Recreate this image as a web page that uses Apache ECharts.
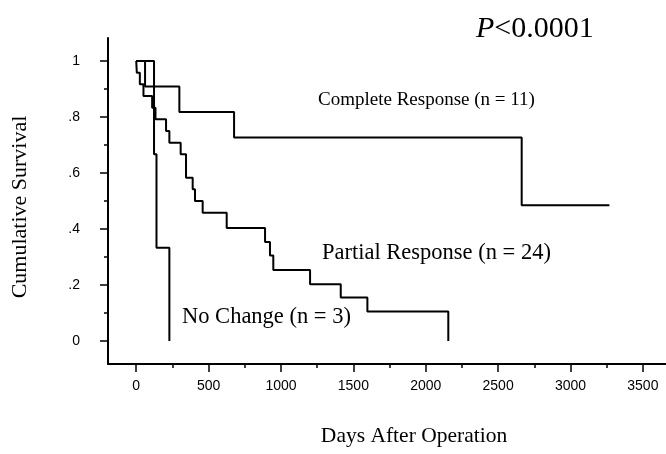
<!DOCTYPE html>
<html>
<head>
<meta charset="utf-8">
<script src="https://cdn.jsdelivr.net/npm/echarts@6/dist/echarts.min.js"></script>
<style>
html,body{margin:0;padding:0;background:#fff;}
#chart{width:666px;height:454px;}
</style>
</head>
<body>
<div id="chart"></div>
<script>
// ---- data ----
const completeDays = [0, 61, 298, 676, 2663, 3269];
const completeSurv = [1, 0.909, 0.818, 0.727, 0.485, 0.485];

const partialDays = [0, 4, 25, 50, 110, 133, 206, 229, 307, 344, 390, 406, 459, 625, 890, 924, 947, 1201, 1413, 1597, 2156];
const partialSurv = [1, 0.958, 0.917, 0.875, 0.833, 0.792, 0.75, 0.708, 0.667, 0.583, 0.542, 0.5, 0.458, 0.404, 0.354, 0.305, 0.254, 0.203, 0.155, 0.105, 0];

const noChangeDays = [0, 123, 140, 229];
const noChangeSurv = [1, 0.667, 0.333, 0];

const xMajorTicks = [0, 500, 1000, 1500, 2000, 2500, 3000, 3500];
const xMinorTicks = [250, 750, 1250, 1750, 2250, 2750, 3250];
const yMajorTicks = [0, 0.2, 0.4, 0.6, 0.8, 1];
const yMinorTicks = [0.1, 0.3, 0.5, 0.7, 0.9];
const yTickLabels = ['0', '.2', '.4', '.6', '.8', '1'];

const seriesNames = ['Complete Response (n = 11)', 'Partial Response (n = 24)', 'No Change (n = 3)'];
const pText = '<0.0001';
const xTitle = 'Days After Operation';
const yTitle = 'Cumulative Survival';

// ---- chart ----
const SERIF = '"Liberation Serif", "DejaVu Serif", serif';
const SANS = '"Liberation Sans", Arial, sans-serif';
const XMIN = -195, XMAX = 3660, YMIN = -0.0821, YMAX = 1.0821;

function pairs(d, s) { return d.map((v, i) => [v, s[i]]); }

const chart = echarts.init(document.getElementById('chart'), null, {renderer: 'canvas'});
const lineStyle = {color: '#000', width: 2};

chart.setOption({
  backgroundColor: '#fff',
  animation: false,
  grid: {left: 108, top: 38, right: 0, bottom: 90, containLabel: false, outerBoundsMode: 'none'},
  xAxis: [
    {
      type: 'value', min: XMIN, max: XMAX,
      axisLine: {onZero: false, lineStyle: {color: '#000', width: 2}},
      axisTick: {customValues: xMajorTicks, length: 8, lineStyle: {color: '#000', width: 1.5}},
      axisLabel: {customValues: xMajorTicks, margin: 15, color: '#000', fontSize: 14, fontFamily: SANS,
        formatter: v => String(v)},
      splitLine: {show: false}
    },
    {
      type: 'value', min: XMIN, max: XMAX, position: 'bottom',
      axisLine: {show: false, onZero: false},
      axisTick: {customValues: xMinorTicks, length: 4, lineStyle: {color: '#000', width: 1.5}},
      axisLabel: {show: false},
      splitLine: {show: false}
    }
  ],
  yAxis: [
    {
      type: 'value', min: YMIN, max: YMAX,
      axisLine: {show: true, onZero: false, lineStyle: {color: '#000', width: 2}},
      axisTick: {show: true, customValues: yMajorTicks, length: 8, lineStyle: {color: '#000', width: 1.5}},
      axisLabel: {
        customValues: yMajorTicks, margin: 28, color: '#000', fontSize: 14, fontFamily: SANS,
        formatter: v => { const i = yMajorTicks.findIndex(t => Math.abs(t - v) < 1e-6); return i >= 0 ? yTickLabels[i] : ''; }
      },
      splitLine: {show: false}
    },
    {
      type: 'value', min: YMIN, max: YMAX, position: 'left',
      axisLine: {show: false, onZero: false},
      axisTick: {show: true, customValues: yMinorTicks, length: 4, lineStyle: {color: '#000', width: 1.5}},
      axisLabel: {show: false},
      splitLine: {show: false}
    }
  ],
  series: [
    {name: seriesNames[0], type: 'line', step: 'end', showSymbol: false, symbol: 'none', data: pairs(completeDays, completeSurv), lineStyle},
    {name: seriesNames[1], type: 'line', step: 'end', showSymbol: false, symbol: 'none', data: pairs(partialDays, partialSurv), lineStyle},
    {name: seriesNames[2], type: 'line', step: 'end', showSymbol: false, symbol: 'none', data: pairs(noChangeDays, noChangeSurv), lineStyle}
  ],
  graphic: [
    {type: 'text', left: 476, top: 14, style: {
      text: '{i|P}' + pText, fill: '#000', font: '30px ' + SERIF,
      rich: {i: {fontStyle: 'italic', fontSize: 30, fontFamily: SERIF, fill: '#000'}}
    }},
    {type: 'text', x: 318, y: 100, style: {text: seriesNames[0], fill: '#000', font: '19px ' + SERIF, verticalAlign: 'middle'}},
    {type: 'text', x: 322, y: 253, style: {text: seriesNames[1], fill: '#000', font: '22.5px ' + SERIF, verticalAlign: 'middle'}},
    {type: 'text', x: 182, y: 317, style: {text: seriesNames[2], fill: '#000', font: '22.5px ' + SERIF, verticalAlign: 'middle'}},
    {type: 'text', x: 414, y: 436, style: {text: xTitle, fill: '#000', font: '21.5px ' + SERIF, align: 'center', verticalAlign: 'middle'}},
    {type: 'text', x: 20, y: 207, rotation: Math.PI / 2, style: {text: yTitle, fill: '#000', font: '22px ' + SERIF, align: 'center', verticalAlign: 'middle'}}
  ]
});
</script>
</body>
</html>
